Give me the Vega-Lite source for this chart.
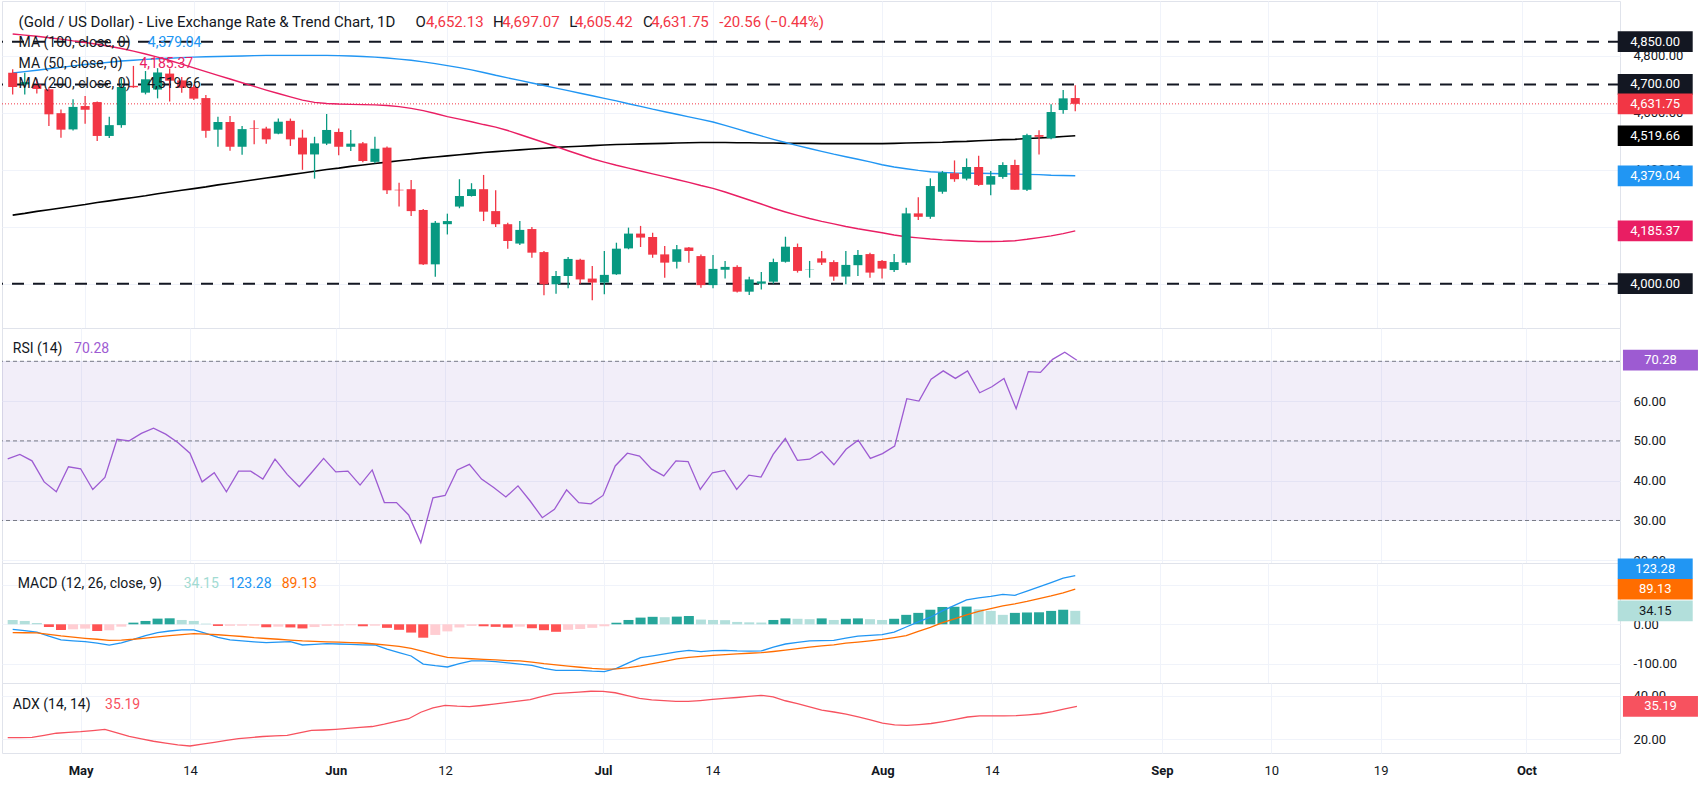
{
  "$schema": "https://vega.github.io/schema/vega-lite/v6.json",
  "background": "#ffffff",
  "padding": 0,
  "spacing": 0,
  "bounds": "flush",
  "config": {
    "view": {"stroke": "#e0e3eb", "strokeWidth": 1},
    "font": "Roboto",
    "axis": {"gridColor": "#f0f3fa", "gridWidth": 1, "labelColor": "#131722", "labelFont": "Roboto", "labelFontSize": 13, "domain": false, "ticks": false},
    "text": {"font": "Roboto"}
  },
  "datasets": {
    "bars": [
      {"d":"2026-04-23","i":-6,"o":4741,"h":4753,"l":4665,"c":4691,"m50":4877,"m100":4740,"m200":4241,"rsi":45.5,"macd":-12.7,"sig":-21,"hist":11,"adx":20.8},
      {"d":"2026-04-24","i":-5,"o":4700,"h":4741,"l":4665,"c":4708,"m50":4873,"m100":4745,"m200":4247,"rsi":46.6,"macd":-16,"sig":-21.5,"hist":8.5,"adx":20.8},
      {"d":"2026-04-27","i":-4,"o":4700,"h":4720,"l":4668,"c":4684,"m50":4869,"m100":4750,"m200":4254,"rsi":45,"macd":-20,"sig":-22,"hist":3.4,"adx":20.9},
      {"d":"2026-04-28","i":-3,"o":4683,"h":4690,"l":4554,"c":4595,"m50":4864,"m100":4755,"m200":4260,"rsi":39.7,"macd":-30,"sig":-25.5,"hist":-6.8,"adx":21.8},
      {"d":"2026-04-29","i":-2,"o":4599,"h":4612,"l":4513,"c":4541,"m50":4859,"m100":4760,"m200":4266,"rsi":37.2,"macd":-39.8,"sig":-29.6,"hist":-14.4,"adx":22.8},
      {"d":"2026-04-30","i":-1,"o":4542,"h":4648,"l":4538,"c":4621,"m50":4853,"m100":4765,"m200":4272,"rsi":43.5,"macd":-42,"sig":-32.5,"hist":-12.7,"adx":23.2},
      {"d":"2026-05-01","i":0,"o":4624,"h":4659,"l":4562,"c":4611,"m50":4847,"m100":4770,"m200":4278,"rsi":43,"macd":-44,"sig":-35.5,"hist":-11,"adx":23.5},
      {"d":"2026-05-04","i":1,"o":4638,"h":4640,"l":4501,"c":4519,"m50":4841,"m100":4774,"m200":4285,"rsi":37.8,"macd":-48,"sig":-38,"hist":-17,"adx":24},
      {"d":"2026-05-05","i":2,"o":4519,"h":4586,"l":4512,"c":4557,"m50":4834,"m100":4778,"m200":4291,"rsi":40.8,"macd":-53,"sig":-40.6,"hist":-15.2,"adx":24.6},
      {"d":"2026-05-06","i":3,"o":4557,"h":4722,"l":4548,"c":4691,"m50":4826,"m100":4782,"m200":4297,"rsi":50.4,"macd":-47,"sig":-40,"hist":-6,"adx":23},
      {"d":"2026-05-07","i":4,"o":4695,"h":4765,"l":4688,"c":4690,"m50":4817,"m100":4785,"m200":4303,"rsi":50,"macd":-38,"sig":-38,"hist":4.2,"adx":21.4},
      {"d":"2026-05-08","i":5,"o":4671,"h":4747,"l":4665,"c":4718,"m50":4807,"m100":4788,"m200":4309,"rsi":51.9,"macd":-29,"sig":-35,"hist":8.5,"adx":20.2},
      {"d":"2026-05-11","i":6,"o":4682,"h":4757,"l":4651,"c":4742,"m50":4796,"m100":4790,"m200":4316,"rsi":53.2,"macd":-21,"sig":-32,"hist":14.4,"adx":19.1},
      {"d":"2026-05-12","i":7,"o":4738,"h":4756,"l":4640,"c":4713,"m50":4784,"m100":4792,"m200":4322,"rsi":51.7,"macd":-17,"sig":-29,"hist":15.2,"adx":18.2},
      {"d":"2026-05-13","i":8,"o":4714,"h":4726,"l":4671,"c":4688,"m50":4771,"m100":4794,"m200":4328,"rsi":49.6,"macd":-14.4,"sig":-26,"hist":11,"adx":17.4},
      {"d":"2026-05-14","i":9,"o":4691,"h":4700,"l":4645,"c":4650,"m50":4758,"m100":4796,"m200":4334,"rsi":46.9,"macd":-14.4,"sig":-23.7,"hist":8.5,"adx":16.9},
      {"d":"2026-05-15","i":10,"o":4652,"h":4663,"l":4513,"c":4537,"m50":4745,"m100":4797,"m200":4340,"rsi":39.7,"macd":-23,"sig":-25,"hist":1.7,"adx":17.8},
      {"d":"2026-05-18","i":11,"o":4541,"h":4586,"l":4481,"c":4568,"m50":4732,"m100":4798,"m200":4347,"rsi":42,"macd":-33,"sig":-26.5,"hist":-4.2,"adx":18.6},
      {"d":"2026-05-19","i":12,"o":4568,"h":4589,"l":4467,"c":4481,"m50":4719,"m100":4799,"m200":4353,"rsi":37.2,"macd":-39.8,"sig":-28.5,"hist":-3.9,"adx":19.5},
      {"d":"2026-05-20","i":13,"o":4481,"h":4554,"l":4453,"c":4543,"m50":4706,"m100":4800,"m200":4359,"rsi":42.4,"macd":-42,"sig":-31,"hist":-3.6,"adx":20.3},
      {"d":"2026-05-21","i":14,"o":4546,"h":4574,"l":4490,"c":4544,"m50":4693,"m100":4801,"m200":4365,"rsi":42.4,"macd":-44.5,"sig":-34,"hist":-3.3,"adx":20.8},
      {"d":"2026-05-22","i":15,"o":4545,"h":4551,"l":4492,"c":4507,"m50":4680,"m100":4802,"m200":4371,"rsi":40.4,"macd":-46.5,"sig":-36,"hist":-7.5,"adx":21.3},
      {"d":"2026-05-25","i":16,"o":4527,"h":4580,"l":4525,"c":4569,"m50":4668,"m100":4802,"m200":4377,"rsi":45.4,"macd":-45,"sig":-38,"hist":-6,"adx":21.6},
      {"d":"2026-05-26","i":17,"o":4572,"h":4580,"l":4484,"c":4507,"m50":4656,"m100":4802,"m200":4383,"rsi":41.6,"macd":-44,"sig":-40,"hist":-8,"adx":21.8},
      {"d":"2026-05-27","i":18,"o":4513,"h":4541,"l":4400,"c":4454,"m50":4645,"m100":4802,"m200":4389,"rsi":38.5,"macd":-52.5,"sig":-42.3,"hist":-10.5,"adx":23},
      {"d":"2026-05-28","i":19,"o":4454,"h":4516,"l":4369,"c":4493,"m50":4637,"m100":4802,"m200":4395,"rsi":42,"macd":-51,"sig":-43.5,"hist":-7,"adx":24.1},
      {"d":"2026-05-29","i":20,"o":4492,"h":4596,"l":4487,"c":4540,"m50":4633,"m100":4802,"m200":4401,"rsi":45.6,"macd":-49,"sig":-44.5,"hist":-4,"adx":24.3},
      {"d":"2026-06-01","i":21,"o":4533,"h":4545,"l":4451,"c":4481,"m50":4631,"m100":4801,"m200":4406,"rsi":42.2,"macd":-50,"sig":-45.5,"hist":-3.5,"adx":24.6},
      {"d":"2026-06-02","i":22,"o":4481,"h":4540,"l":4466,"c":4492,"m50":4630,"m100":4800,"m200":4412,"rsi":42.4,"macd":-51,"sig":-46.3,"hist":-2.5,"adx":25},
      {"d":"2026-06-03","i":23,"o":4493,"h":4498,"l":4427,"c":4431,"m50":4629,"m100":4798,"m200":4417,"rsi":38.9,"macd":-52,"sig":-47.5,"hist":-5,"adx":25.5},
      {"d":"2026-06-04","i":24,"o":4428,"h":4516,"l":4423,"c":4474,"m50":4628,"m100":4796,"m200":4422,"rsi":42.7,"macd":-52.5,"sig":-50,"hist":-3.5,"adx":25.9},
      {"d":"2026-06-05","i":25,"o":4478,"h":4482,"l":4315,"c":4328,"m50":4626,"m100":4793,"m200":4427,"rsi":34.5,"macd":-63,"sig":-53,"hist":-9,"adx":27},
      {"d":"2026-06-08","i":26,"o":4330,"h":4355,"l":4271,"c":4328,"m50":4622,"m100":4789,"m200":4432,"rsi":34.5,"macd":-72,"sig":-56,"hist":-14,"adx":28.3},
      {"d":"2026-06-09","i":27,"o":4332,"h":4364,"l":4238,"c":4255,"m50":4616,"m100":4785,"m200":4436,"rsi":31.4,"macd":-80.4,"sig":-61,"hist":-21,"adx":29.5},
      {"d":"2026-06-10","i":28,"o":4259,"h":4262,"l":4066,"c":4068,"m50":4608,"m100":4779,"m200":4441,"rsi":24.4,"macd":-101,"sig":-69,"hist":-34,"adx":32.5},
      {"d":"2026-06-11","i":29,"o":4068,"h":4220,"l":4024,"c":4214,"m50":4598,"m100":4773,"m200":4445,"rsi":35.7,"macd":-105,"sig":-77,"hist":-27,"adx":34.5},
      {"d":"2026-06-12","i":30,"o":4209,"h":4246,"l":4173,"c":4220,"m50":4587,"m100":4766,"m200":4449,"rsi":36.3,"macd":-108.3,"sig":-84,"hist":-18,"adx":35.7},
      {"d":"2026-06-15","i":31,"o":4271,"h":4367,"l":4265,"c":4308,"m50":4578,"m100":4759,"m200":4453,"rsi":42.7,"macd":-100,"sig":-86,"hist":-8,"adx":35.3},
      {"d":"2026-06-16","i":32,"o":4308,"h":4353,"l":4306,"c":4332,"m50":4569,"m100":4751,"m200":4457,"rsi":44.1,"macd":-93,"sig":-87.5,"hist":-4,"adx":35.1},
      {"d":"2026-06-17","i":33,"o":4332,"h":4382,"l":4220,"c":4253,"m50":4559,"m100":4742,"m200":4461,"rsi":40.4,"macd":-93,"sig":-89,"hist":-5,"adx":35.6},
      {"d":"2026-06-18","i":34,"o":4255,"h":4328,"l":4199,"c":4209,"m50":4550,"m100":4732,"m200":4464,"rsi":38.3,"macd":-95,"sig":-90.5,"hist":-6.5,"adx":36.2},
      {"d":"2026-06-19","i":35,"o":4209,"h":4214,"l":4123,"c":4150,"m50":4538,"m100":4723,"m200":4467,"rsi":35.9,"macd":-98,"sig":-92,"hist":-8.5,"adx":36.9},
      {"d":"2026-06-22","i":36,"o":4141,"h":4220,"l":4136,"c":4189,"m50":4524,"m100":4714,"m200":4470,"rsi":38.7,"macd":-101,"sig":-93,"hist":-6,"adx":37.6},
      {"d":"2026-06-23","i":37,"o":4192,"h":4199,"l":4091,"c":4109,"m50":4510,"m100":4705,"m200":4473,"rsi":34.9,"macd":-104,"sig":-96,"hist":-10,"adx":38.3},
      {"d":"2026-06-24","i":38,"o":4111,"h":4115,"l":3959,"c":3998,"m50":4496,"m100":4696,"m200":4476,"rsi":30.7,"macd":-112,"sig":-100,"hist":-15,"adx":39.8},
      {"d":"2026-06-25","i":39,"o":3998,"h":4045,"l":3965,"c":4027,"m50":4482,"m100":4687,"m200":4479,"rsi":32.8,"macd":-117,"sig":-103,"hist":-19,"adx":41.1},
      {"d":"2026-06-26","i":40,"o":4027,"h":4094,"l":3984,"c":4087,"m50":4467,"m100":4678,"m200":4481,"rsi":37.7,"macd":-117,"sig":-106,"hist":-14,"adx":41.4},
      {"d":"2026-06-29","i":41,"o":4084,"h":4088,"l":4000,"c":4015,"m50":4453,"m100":4669,"m200":4483,"rsi":34.5,"macd":-117,"sig":-109,"hist":-12,"adx":41.8},
      {"d":"2026-06-30","i":42,"o":4018,"h":4062,"l":3942,"c":4004,"m50":4439,"m100":4660,"m200":4485,"rsi":34.2,"macd":-119,"sig":-112,"hist":-9,"adx":42.2},
      {"d":"2026-07-01","i":43,"o":4004,"h":4115,"l":3963,"c":4031,"m50":4427,"m100":4651,"m200":4487,"rsi":36.3,"macd":-120,"sig":-114,"hist":-5,"adx":42.1},
      {"d":"2026-07-02","i":44,"o":4033,"h":4144,"l":4031,"c":4123,"m50":4416,"m100":4642,"m200":4489,"rsi":43.7,"macd":-112,"sig":-113,"hist":4,"adx":41.5},
      {"d":"2026-07-03","i":45,"o":4124,"h":4197,"l":4121,"c":4176,"m50":4406,"m100":4632,"m200":4490,"rsi":46.9,"macd":-98,"sig":-110,"hist":11,"adx":40.2},
      {"d":"2026-07-06","i":46,"o":4176,"h":4203,"l":4129,"c":4162,"m50":4396,"m100":4623,"m200":4491,"rsi":46.2,"macd":-84.6,"sig":-105.8,"hist":17,"adx":38.9},
      {"d":"2026-07-07","i":47,"o":4164,"h":4179,"l":4091,"c":4102,"m50":4386,"m100":4613,"m200":4492,"rsi":42.9,"macd":-80,"sig":-100,"hist":19,"adx":38.2},
      {"d":"2026-07-08","i":48,"o":4103,"h":4132,"l":4021,"c":4074,"m50":4376,"m100":4604,"m200":4493,"rsi":41.2,"macd":-75,"sig":-94,"hist":18,"adx":37.9},
      {"d":"2026-07-09","i":49,"o":4077,"h":4136,"l":4053,"c":4121,"m50":4366,"m100":4595,"m200":4494,"rsi":45,"macd":-70,"sig":-88,"hist":19.5,"adx":37.5},
      {"d":"2026-07-10","i":50,"o":4127,"h":4129,"l":4074,"c":4115,"m50":4356,"m100":4586,"m200":4495,"rsi":44.8,"macd":-66,"sig":-84,"hist":21,"adx":37.5},
      {"d":"2026-07-13","i":51,"o":4097,"h":4103,"l":3986,"c":3995,"m50":4345,"m100":4577,"m200":4496,"rsi":37.8,"macd":-69.4,"sig":-81.5,"hist":12,"adx":37.9},
      {"d":"2026-07-14","i":52,"o":3995,"h":4101,"l":3984,"c":4052,"m50":4335,"m100":4568,"m200":4496,"rsi":42,"macd":-67,"sig":-79,"hist":11,"adx":38.4},
      {"d":"2026-07-15","i":53,"o":4049,"h":4080,"l":4018,"c":4059,"m50":4322,"m100":4556,"m200":4496,"rsi":42.6,"macd":-66,"sig":-77,"hist":10.5,"adx":38.9},
      {"d":"2026-07-16","i":54,"o":4059,"h":4065,"l":3969,"c":3972,"m50":4308,"m100":4544,"m200":4495,"rsi":37.8,"macd":-67.7,"sig":-75,"hist":6,"adx":39.3},
      {"d":"2026-07-17","i":55,"o":3972,"h":4024,"l":3960,"c":4015,"m50":4294,"m100":4531,"m200":4495,"rsi":41.4,"macd":-68,"sig":-73.5,"hist":5,"adx":39.8},
      {"d":"2026-07-20","i":56,"o":4000,"h":4041,"l":3980,"c":4008,"m50":4280,"m100":4519,"m200":4494,"rsi":40.9,"macd":-67.7,"sig":-72,"hist":4.5,"adx":40.3},
      {"d":"2026-07-21","i":57,"o":4007,"h":4088,"l":4000,"c":4076,"m50":4265,"m100":4507,"m200":4494,"rsi":46.6,"macd":-58,"sig":-69,"hist":11,"adx":39.6},
      {"d":"2026-07-22","i":58,"o":4077,"h":4165,"l":4074,"c":4130,"m50":4252,"m100":4496,"m200":4493,"rsi":50.6,"macd":-50,"sig":-65.5,"hist":15,"adx":37.8},
      {"d":"2026-07-23","i":59,"o":4129,"h":4141,"l":4039,"c":4045,"m50":4240,"m100":4485,"m200":4493,"rsi":45.1,"macd":-46,"sig":-62,"hist":14,"adx":36.5},
      {"d":"2026-07-24","i":60,"o":4050,"h":4080,"l":4021,"c":4051,"m50":4229,"m100":4475,"m200":4493,"rsi":45.4,"macd":-42.3,"sig":-58,"hist":13,"adx":35},
      {"d":"2026-07-27","i":61,"o":4089,"h":4115,"l":4066,"c":4074,"m50":4219,"m100":4465,"m200":4492,"rsi":47.3,"macd":-41.5,"sig":-55,"hist":15,"adx":33.5},
      {"d":"2026-07-28","i":62,"o":4076,"h":4082,"l":4010,"c":4025,"m50":4210,"m100":4455,"m200":4492,"rsi":44,"macd":-40.6,"sig":-52,"hist":11,"adx":32.6},
      {"d":"2026-07-29","i":63,"o":4025,"h":4115,"l":3998,"c":4066,"m50":4201,"m100":4446,"m200":4492,"rsi":47.9,"macd":-35,"sig":-48,"hist":14,"adx":31.6},
      {"d":"2026-07-30","i":64,"o":4065,"h":4118,"l":4027,"c":4101,"m50":4193,"m100":4437,"m200":4492,"rsi":50.2,"macd":-30,"sig":-45,"hist":15,"adx":30.4},
      {"d":"2026-07-31","i":65,"o":4104,"h":4109,"l":4021,"c":4039,"m50":4186,"m100":4428,"m200":4492,"rsi":45.6,"macd":-28,"sig":-42,"hist":13,"adx":29},
      {"d":"2026-08-03","i":66,"o":4080,"h":4083,"l":4018,"c":4053,"m50":4179,"m100":4418,"m200":4492,"rsi":46.8,"macd":-26,"sig":-38.5,"hist":11,"adx":27.5},
      {"d":"2026-08-04","i":67,"o":4048,"h":4104,"l":4041,"c":4076,"m50":4171,"m100":4410,"m200":4493,"rsi":48.7,"macd":-20,"sig":-34,"hist":14,"adx":26.7},
      {"d":"2026-08-05","i":68,"o":4074,"h":4267,"l":4066,"c":4247,"m50":4165,"m100":4404,"m200":4494,"rsi":60.6,"macd":-6.8,"sig":-29,"hist":24,"adx":26.4},
      {"d":"2026-08-06","i":69,"o":4247,"h":4304,"l":4224,"c":4235,"m50":4161,"m100":4398,"m200":4495,"rsi":60,"macd":6,"sig":-18,"hist":29,"adx":26.8},
      {"d":"2026-08-07","i":70,"o":4235,"h":4370,"l":4228,"c":4343,"m50":4157,"m100":4393,"m200":4496,"rsi":65.5,"macd":18,"sig":-8,"hist":37,"adx":27.3},
      {"d":"2026-08-10","i":71,"o":4323,"h":4396,"l":4316,"c":4390,"m50":4154,"m100":4391,"m200":4497,"rsi":67.6,"macd":34,"sig":4,"hist":44,"adx":28.2},
      {"d":"2026-08-11","i":72,"o":4388,"h":4433,"l":4358,"c":4367,"m50":4152,"m100":4389,"m200":4499,"rsi":65.7,"macd":48,"sig":14,"hist":44.5,"adx":29.2},
      {"d":"2026-08-12","i":73,"o":4369,"h":4440,"l":4363,"c":4410,"m50":4150,"m100":4388,"m200":4500,"rsi":67.6,"macd":61.8,"sig":24,"hist":45,"adx":30.3},
      {"d":"2026-08-13","i":74,"o":4410,"h":4449,"l":4343,"c":4347,"m50":4148,"m100":4388,"m200":4502,"rsi":62.1,"macd":67,"sig":33,"hist":38,"adx":30.8},
      {"d":"2026-08-14","i":75,"o":4348,"h":4396,"l":4311,"c":4378,"m50":4148,"m100":4387,"m200":4504,"rsi":63.6,"macd":71,"sig":40,"hist":34,"adx":30.8},
      {"d":"2026-08-17","i":76,"o":4375,"h":4427,"l":4369,"c":4417,"m50":4149,"m100":4386,"m200":4506,"rsi":65.7,"macd":76,"sig":47,"hist":24,"adx":30.8},
      {"d":"2026-08-18","i":77,"o":4417,"h":4435,"l":4330,"c":4330,"m50":4151,"m100":4385,"m200":4507,"rsi":58.1,"macd":73.6,"sig":52,"hist":29,"adx":30.9},
      {"d":"2026-08-19","i":78,"o":4330,"h":4527,"l":4326,"c":4522,"m50":4156,"m100":4384,"m200":4510,"rsi":67.4,"macd":84,"sig":58,"hist":30,"adx":31.3},
      {"d":"2026-08-20","i":79,"o":4522,"h":4539,"l":4454,"c":4516,"m50":4162,"m100":4383,"m200":4512,"rsi":67.2,"macd":94.8,"sig":65,"hist":30.5,"adx":31.8},
      {"d":"2026-08-21","i":80,"o":4511,"h":4630,"l":4507,"c":4603,"m50":4168,"m100":4381,"m200":4514,"rsi":70.5,"macd":106,"sig":72,"hist":34,"adx":32.8},
      {"d":"2026-08-24","i":81,"o":4610,"h":4680,"l":4597,"c":4651,"m50":4176,"m100":4380,"m200":4517,"rsi":72.3,"macd":117,"sig":80,"hist":37,"adx":34},
      {"d":"2026-08-25","i":82,"o":4652.13,"h":4697.07,"l":4605.42,"c":4631.75,"m50":4185.37,"m100":4379.04,"m200":4519.66,"rsi":70.28,"macd":123.28,"sig":89.13,"hist":34.15,"adx":35.19}
    ],
    "lvl": [{"v": 4850}, {"v": 4700}, {"v": 4000}],
    "ptag": [
      {"v": 4850, "t": "4,850.00", "k": "lvl"},
      {"v": 4700, "t": "4,700.00", "k": "lvl"},
      {"v": 4000, "t": "4,000.00", "k": "lvl"},
      {"v": 4519.66, "t": "4,519.66", "k": "ma200"},
      {"v": 4379.04, "t": "4,379.04", "k": "ma100"},
      {"v": 4185.37, "t": "4,185.37", "k": "ma50"},
      {"v": 4631.75, "t": "4,631.75", "k": "last"}
    ],
    "rsiLvl": [{"v": 70}, {"v": 50}, {"v": 30}],
    "rsiBand": [{"lo": 30, "hi": 70}],
    "rtag": [{"v": 70.28, "t": "70.28"}],
    "mtag": [{"v": 34.15, "t": "34.15", "k": "hist"}, {"v": 89.13, "t": "89.13", "k": "sig"}],
    "mtag2": [{"v": 123.28, "t": "123.28", "k": "macd"}],
    "atag": [{"v": 35.19, "t": "35.19"}]
  },
  "vconcat": [
    {
      "width": 1618,
      "height": 327,
      "layer": [
        {
          "data": {"name": "lvl"},
          "mark": {"type": "rule", "color": "#131722", "strokeWidth": 2, "strokeDash": [12, 9]},
          "encoding": {
            "y": {"field": "v", "type": "quantitative", "title": null,
              "scale": {"domain": [3844.4, 4993], "nice": false, "zero": false},
              "axis": {"orient": "right", "values": [4000, 4200, 4400, 4600, 4800], "labelExpr": "replace(format(datum.value, ',.2f'), '−', '-')", "labelPadding": 13, "grid": true}}
          }
        },
        {
          "data": {"name": "bars"},
          "transform": [{"filter": "datum.i == 82"}],
          "mark": {"type": "rule", "color": "#f23645", "strokeWidth": 1, "strokeDash": [1, 2]},
          "encoding": {"y": {"field": "c", "type": "quantitative"}}
        },
        {
          "data": {"name": "bars"},
          "mark": {"type": "line", "color": "#000000", "strokeWidth": 1.6},
          "encoding": {
            "x": {"field": "i", "type": "quantitative", "title": null,
              "scale": {"domain": [-6.47, 126.7], "nice": false, "zero": false},
              "axis": {"values": [0, 9, 21, 30, 43, 52, 66, 75, 89, 98, 107, 119], "labels": false, "grid": true}},
            "y": {"field": "m200", "type": "quantitative"}
          }
        },
        {
          "data": {"name": "bars"},
          "mark": {"type": "line", "color": "#2196f3", "strokeWidth": 1.4},
          "encoding": {"x": {"field": "i", "type": "quantitative"}, "y": {"field": "m100", "type": "quantitative"}}
        },
        {
          "data": {"name": "bars"},
          "mark": {"type": "line", "color": "#e91e63", "strokeWidth": 1.4},
          "encoding": {"x": {"field": "i", "type": "quantitative"}, "y": {"field": "m50", "type": "quantitative"}}
        },
        {
          "data": {"name": "bars"},
          "mark": {"type": "rule", "strokeWidth": 1.3},
          "encoding": {
            "x": {"field": "i", "type": "quantitative"},
            "y": {"field": "l", "type": "quantitative"},
            "y2": {"field": "h"},
            "color": {"condition": {"test": "datum.c >= datum.o", "value": "#089981"}, "value": "#f23645"}
          }
        },
        {
          "data": {"name": "bars"},
          "mark": {"type": "bar", "size": 9},
          "encoding": {
            "x": {"field": "i", "type": "quantitative"},
            "y": {"field": "o", "type": "quantitative"},
            "y2": {"field": "c"},
            "color": {"condition": {"test": "datum.c >= datum.o", "value": "#089981"}, "value": "#f23645"}
          }
        },
        {
          "data": {"name": "ptag"},
          "mark": {"type": "point", "shape": "M-1,-0.276H1V0.276H-1Z", "size": 5625, "filled": true, "opacity": 1, "strokeWidth": 0},
          "encoding": {
            "x": {"datum": 130.03},
            "y": {"field": "v", "type": "quantitative"},
            "color": {"condition": [
              {"test": "datum.k == 'ma200'", "value": "#000000"},
              {"test": "datum.k == 'ma100'", "value": "#2196f3"},
              {"test": "datum.k == 'ma50'", "value": "#e91e63"},
              {"test": "datum.k == 'last'", "value": "#f23645"}
            ], "value": "#131722"}
          }
        },
        {
          "data": {"name": "ptag"},
          "mark": {"type": "text", "color": "#ffffff", "fontSize": 13, "align": "center", "baseline": "middle"},
          "encoding": {"x": {"datum": 130.03}, "y": {"field": "v", "type": "quantitative"}, "text": {"field": "t"}}
        },
        {
          "data": {"values": [{}]},
          "mark": {"type": "text", "align": "left", "baseline": "middle", "fontSize": 15, "color": "#131722"},
          "encoding": {"x": {"datum": -5.51}, "y": {"datum": 4920.3}, "text": {"value": "(Gold / US Dollar) - Live Exchange Rate & Trend Chart, 1D"}}
        },
        {
          "data": {"values": [{}]},
          "mark": {"type": "text", "align": "left", "baseline": "middle", "fontSize": 15, "color": "#131722"},
          "encoding": {"x": {"datum": 27.36}, "y": {"datum": 4920.3}, "text": {"value": "O"}}
        },
        {
          "data": {"values": [{}]},
          "mark": {"type": "text", "align": "left", "baseline": "middle", "fontSize": 15, "color": "#f23645"},
          "encoding": {"x": {"datum": 28.24}, "y": {"datum": 4920.3}, "text": {"value": "4,652.13"}}
        },
        {
          "data": {"values": [{}]},
          "mark": {"type": "text", "align": "left", "baseline": "middle", "fontSize": 15, "color": "#131722"},
          "encoding": {"x": {"datum": 33.78}, "y": {"datum": 4920.3}, "text": {"value": "H"}}
        },
        {
          "data": {"values": [{}]},
          "mark": {"type": "text", "align": "left", "baseline": "middle", "fontSize": 15, "color": "#f23645"},
          "encoding": {"x": {"datum": 34.54}, "y": {"datum": 4920.3}, "text": {"value": "4,697.07"}}
        },
        {
          "data": {"values": [{}]},
          "mark": {"type": "text", "align": "left", "baseline": "middle", "fontSize": 15, "color": "#131722"},
          "encoding": {"x": {"datum": 40.09}, "y": {"datum": 4920.3}, "text": {"value": "L"}}
        },
        {
          "data": {"values": [{}]},
          "mark": {"type": "text", "align": "left", "baseline": "middle", "fontSize": 15, "color": "#f23645"},
          "encoding": {"x": {"datum": 40.58}, "y": {"datum": 4920.3}, "text": {"value": "4,605.42"}}
        },
        {
          "data": {"values": [{}]},
          "mark": {"type": "text", "align": "left", "baseline": "middle", "fontSize": 15, "color": "#131722"},
          "encoding": {"x": {"datum": 46.21}, "y": {"datum": 4920.3}, "text": {"value": "C"}}
        },
        {
          "data": {"values": [{}]},
          "mark": {"type": "text", "align": "left", "baseline": "middle", "fontSize": 15, "color": "#f23645"},
          "encoding": {"x": {"datum": 46.89}, "y": {"datum": 4920.3}, "text": {"value": "4,631.75"}}
        },
        {
          "data": {"values": [{}]},
          "mark": {"type": "text", "align": "left", "baseline": "middle", "fontSize": 15, "color": "#f23645"},
          "encoding": {"x": {"datum": 52.52}, "y": {"datum": 4920.3}, "text": {"value": "-20.56 (−0.44%)"}}
        },
        {
          "data": {"values": [{}]},
          "mark": {"type": "text", "align": "left", "baseline": "middle", "fontSize": 14, "color": "#131722"},
          "encoding": {"x": {"datum": -5.51}, "y": {"datum": 4846.5}, "text": {"value": "MA (100, close, 0)"}}
        },
        {
          "data": {"values": [{}]},
          "mark": {"type": "text", "align": "left", "baseline": "middle", "fontSize": 14, "color": "#2196f3"},
          "encoding": {"x": {"datum": 5.19}, "y": {"datum": 4846.5}, "text": {"value": "4,379.04"}}
        },
        {
          "data": {"values": [{}]},
          "mark": {"type": "text", "align": "left", "baseline": "middle", "fontSize": 14, "color": "#131722"},
          "encoding": {"x": {"datum": -5.51}, "y": {"datum": 4772.8}, "text": {"value": "MA (50, close, 0)"}}
        },
        {
          "data": {"values": [{}]},
          "mark": {"type": "text", "align": "left", "baseline": "middle", "fontSize": 14, "color": "#e91e63"},
          "encoding": {"x": {"datum": 4.5}, "y": {"datum": 4772.8}, "text": {"value": "4,185.37"}}
        },
        {
          "data": {"values": [{}]},
          "mark": {"type": "text", "align": "left", "baseline": "middle", "fontSize": 14, "color": "#131722"},
          "encoding": {"x": {"datum": -5.51}, "y": {"datum": 4700.5}, "text": {"value": "MA (200, close, 0)"}}
        },
        {
          "data": {"values": [{}]},
          "mark": {"type": "text", "align": "left", "baseline": "middle", "fontSize": 14, "color": "#131722"},
          "encoding": {"x": {"datum": 5.14}, "y": {"datum": 4700.5}, "text": {"value": "4,519.66"}}
        }
      ]
    },
    {
      "width": 1618,
      "height": 235,
      "layer": [
        {
          "data": {"name": "rsiBand"},
          "mark": {"type": "rect", "color": "#7e57c2", "opacity": 0.1},
          "encoding": {
            "y": {"field": "lo", "type": "quantitative", "title": null,
              "scale": {"domain": [19.32, 78.37], "nice": false, "zero": false},
              "axis": {"orient": "right", "values": [20, 30, 40, 50, 60, 70], "labelExpr": "replace(format(datum.value, ',.2f'), '−', '-')", "labelPadding": 13, "grid": true}},
            "y2": {"field": "hi"}
          }
        },
        {
          "data": {"name": "rsiLvl"},
          "mark": {"type": "rule", "color": "#787b86", "strokeWidth": 1, "strokeDash": [4, 3]},
          "encoding": {"y": {"field": "v", "type": "quantitative"}}
        },
        {
          "data": {"name": "bars"},
          "mark": {"type": "line", "color": "#9d5bd2", "strokeWidth": 1.3},
          "encoding": {
            "x": {"field": "i", "type": "quantitative", "title": null,
              "scale": {"domain": [-6.47, 126.7], "nice": false, "zero": false},
              "axis": {"values": [0, 9, 21, 30, 43, 52, 66, 75, 89, 98, 107, 119], "labels": false, "grid": true}},
            "y": {"field": "rsi", "type": "quantitative"}
          }
        },
        {
          "data": {"name": "rtag"},
          "mark": {"type": "point", "shape": "M-1,-0.276H1V0.276H-1Z", "size": 5625, "filled": true, "opacity": 1, "strokeWidth": 0, "color": "#9d5bd2"},
          "encoding": {"x": {"datum": 130.03}, "y": {"field": "v", "type": "quantitative"}}
        },
        {
          "data": {"name": "rtag"},
          "mark": {"type": "text", "color": "#ffffff", "fontSize": 13, "align": "center", "baseline": "middle"},
          "encoding": {"x": {"datum": 130.03}, "y": {"field": "v", "type": "quantitative"}, "text": {"field": "t"}}
        },
        {
          "data": {"values": [{}]},
          "mark": {"type": "text", "align": "left", "baseline": "middle", "fontSize": 14, "color": "#131722"},
          "encoding": {"x": {"datum": -5.58}, "y": {"datum": 73.09}, "text": {"value": "RSI (14)"}}
        },
        {
          "data": {"values": [{}]},
          "mark": {"type": "text", "align": "left", "baseline": "middle", "fontSize": 14, "color": "#9d5bd2"},
          "encoding": {"x": {"datum": -0.54}, "y": {"datum": 73.09}, "text": {"value": "70.28"}}
        }
      ]
    },
    {
      "width": 1618,
      "height": 120,
      "layer": [
        {
          "data": {"name": "bars"},
          "transform": [{"window": [{"op": "lag", "field": "hist", "as": "prev"}], "sort": [{"field": "i"}]}],
          "mark": {"type": "bar", "size": 10},
          "encoding": {
            "x": {"field": "i", "type": "quantitative", "title": null,
              "scale": {"domain": [-6.47, 126.7], "nice": false, "zero": false},
              "axis": {"values": [0, 9, 21, 30, 43, 52, 66, 75, 89, 98, 107, 119], "labels": false, "grid": true}},
            "y": {"field": "hist", "type": "quantitative", "title": null,
              "scale": {"domain": [-149, 155.6], "nice": false, "zero": false},
              "axis": {"orient": "right", "values": [-100, 0, 100], "labelExpr": "replace(format(datum.value, ',.2f'), '−', '-')", "labelPadding": 13, "grid": true}},
            "y2": {"datum": 0},
            "color": {"condition": [
              {"test": "datum.hist >= 0 && datum.prev != null && datum.hist >= datum.prev", "value": "#26a69a"},
              {"test": "datum.hist >= 0", "value": "#b2dfdb"},
              {"test": "datum.hist < datum.prev", "value": "#ff5252"}
            ], "value": "#ffcdd2"}
          }
        },
        {
          "data": {"name": "bars"},
          "mark": {"type": "line", "color": "#2196f3", "strokeWidth": 1.3},
          "encoding": {"x": {"field": "i", "type": "quantitative"}, "y": {"field": "macd", "type": "quantitative"}}
        },
        {
          "data": {"name": "bars"},
          "mark": {"type": "line", "color": "#ff6d00", "strokeWidth": 1.3},
          "encoding": {"x": {"field": "i", "type": "quantitative"}, "y": {"field": "sig", "type": "quantitative"}}
        },
        {
          "data": {"name": "mtag"},
          "mark": {"type": "point", "shape": "M-1,-0.276H1V0.276H-1Z", "size": 5625, "filled": true, "opacity": 1, "strokeWidth": 0},
          "encoding": {
            "x": {"datum": 130.03},
            "y": {"field": "v", "type": "quantitative"},
            "color": {"condition": {"test": "datum.k == 'sig'", "value": "#ff6d00"}, "value": "#b2dfdb"}
          }
        },
        {
          "data": {"name": "mtag"},
          "mark": {"type": "text", "fontSize": 13, "align": "center", "baseline": "middle"},
          "encoding": {
            "x": {"datum": 130.03},
            "y": {"field": "v", "type": "quantitative"},
            "text": {"field": "t"},
            "color": {"condition": {"test": "datum.k == 'sig'", "value": "#ffffff"}, "value": "#131722"}
          }
        },
        {
          "data": {"name": "mtag2"},
          "mark": {"type": "point", "shape": "M-1,-0.276H1V0.276H-1Z", "size": 5625, "filled": true, "opacity": 1, "strokeWidth": 0, "color": "#2196f3", "yOffset": -7},
          "encoding": {"x": {"datum": 130.03}, "y": {"field": "v", "type": "quantitative"}}
        },
        {
          "data": {"name": "mtag2"},
          "mark": {"type": "text", "color": "#ffffff", "fontSize": 13, "align": "center", "baseline": "middle", "yOffset": -7},
          "encoding": {"x": {"datum": 130.03}, "y": {"field": "v", "type": "quantitative"}, "text": {"field": "t"}}
        },
        {
          "data": {"values": [{}]},
          "mark": {"type": "text", "align": "left", "baseline": "middle", "fontSize": 14, "color": "#131722"},
          "encoding": {"x": {"datum": -5.58}, "y": {"datum": 102.3}, "text": {"value": "MACD (12, 26, close, 9)"}}
        },
        {
          "data": {"values": [{}]},
          "mark": {"type": "text", "align": "left", "baseline": "middle", "fontSize": 14, "color": "#a2dbd2"},
          "encoding": {"x": {"datum": 8.16}, "y": {"datum": 102.3}, "text": {"value": "34.15"}}
        },
        {
          "data": {"values": [{}]},
          "mark": {"type": "text", "align": "left", "baseline": "middle", "fontSize": 14, "color": "#2196f3"},
          "encoding": {"x": {"datum": 11.88}, "y": {"datum": 102.3}, "text": {"value": "123.28"}}
        },
        {
          "data": {"values": [{}]},
          "mark": {"type": "text", "align": "left", "baseline": "middle", "fontSize": 14, "color": "#ff6d00"},
          "encoding": {"x": {"datum": 16.28}, "y": {"datum": 102.3}, "text": {"value": "89.13"}}
        }
      ]
    },
    {
      "width": 1618,
      "height": 70,
      "layer": [
        {
          "data": {"name": "bars"},
          "mark": {"type": "line", "color": "#f7525f", "strokeWidth": 1.3},
          "encoding": {
            "x": {"field": "i", "type": "quantitative", "title": null,
              "scale": {"domain": [-6.47, 126.7], "nice": false, "zero": false},
              "axis": {"values": [0, 9, 21, 30, 43, 52, 66, 75, 89, 98, 107, 119], "grid": true, "labelPadding": 11, "labelFontSize": 13, "labelFlush": false, "labelOverlap": false,
                "labelExpr": "['May','14','Jun','12','Jul','14','Aug','14','Sep','10','19','Oct'][indexof([0,9,21,30,43,52,66,75,89,98,107,119], datum.value)]",
                "labelFontWeight": {"condition": {"test": "indexof([0,21,43,66,89,119], datum.value) >= 0", "value": "bold"}, "value": "normal"}}},
            "y": {"field": "adx", "type": "quantitative", "title": null,
              "scale": {"domain": [13.67, 46], "nice": false, "zero": false},
              "axis": {"orient": "right", "values": [20, 40], "labelExpr": "replace(format(datum.value, ',.2f'), '−', '-')", "labelPadding": 13, "grid": true}}
          }
        },
        {
          "data": {"name": "atag"},
          "mark": {"type": "point", "shape": "M-1,-0.276H1V0.276H-1Z", "size": 5625, "filled": true, "opacity": 1, "strokeWidth": 0, "color": "#f7525f"},
          "encoding": {"x": {"datum": 130.03}, "y": {"field": "v", "type": "quantitative"}}
        },
        {
          "data": {"name": "atag"},
          "mark": {"type": "text", "color": "#ffffff", "fontSize": 13, "align": "center", "baseline": "middle"},
          "encoding": {"x": {"datum": 130.03}, "y": {"field": "v", "type": "quantitative"}, "text": {"field": "t"}}
        },
        {
          "data": {"values": [{}]},
          "mark": {"type": "text", "align": "left", "baseline": "middle", "fontSize": 14, "color": "#131722"},
          "encoding": {"x": {"datum": -5.58}, "y": {"datum": 35.84}, "text": {"value": "ADX (14, 14)"}}
        },
        {
          "data": {"values": [{}]},
          "mark": {"type": "text", "align": "left", "baseline": "middle", "fontSize": 14, "color": "#f7525f"},
          "encoding": {"x": {"datum": 2.01}, "y": {"datum": 35.84}, "text": {"value": "35.19"}}
        }
      ]
    }
  ]
}
